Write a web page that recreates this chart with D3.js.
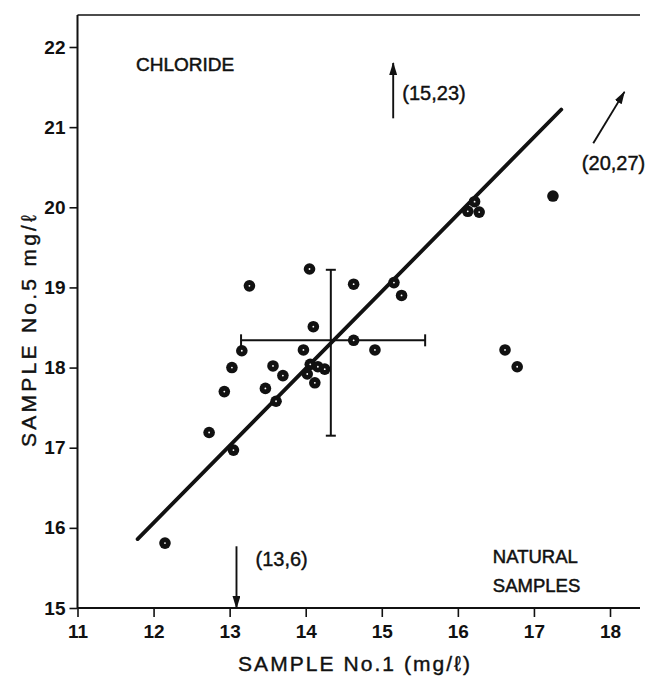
<!DOCTYPE html>
<html><head><meta charset="utf-8">
<script src="https://cdn.jsdelivr.net/npm/d3@7"></script>
<style>
html,body{margin:0;padding:0;background:#fff;}
svg{display:block;}
text{font-family:"Liberation Sans",Arial,Helvetica,sans-serif;fill:#111;}
</style></head>
<body>
<svg id="chart" width="650" height="676"></svg>
<script>
// ---- data ----
const xTicks = [11,12,13,14,15,16,17,18];
const yTicks = [15,16,17,18,19,20,21,22];
const sample1 = [12.15,13.05,12.73,12.93,13.03,13.16,13.26,13.47,13.57,13.61,13.70,13.97,14.10,14.06,14.16,14.25,14.02,14.12,14.05,14.63,15.16,15.26,14.63,14.91,16.13,16.22,16.28,16.62,16.78];
const sample5 = [15.81,16.97,17.19,17.70,18.00,18.21,19.02,17.74,18.02,17.58,17.90,18.22,18.51,18.04,18.01,17.98,17.92,17.81,19.23,19.04,19.06,18.90,18.34,18.22,19.95,20.07,19.94,18.22,18.01];
const solidPoint = [17.25, 20.14];
const fitLine = [[11.79,15.86],[17.36,21.22]];
const meanPoint = [14.33, 18.34];
const xErrRange = [13.15, 15.57];
const yErrRange = [17.15, 19.22];
// off-scale arrows: [x1,y1,x2,y2] in data units
const arrows = [[15.15,21.11,15.15,21.80],[13.09,15.77,13.09,15.0],[17.78,20.80,18.19,21.44]];
const arrowLabels = ["(15,23)","(13,6)","(20,27)"];
const labelPos = [[15.27,21.34],[13.34,15.53],[17.63,20.47]];
const titleText = "CHLORIDE";
const noteText = ["NATURAL","SAMPLES"];
const notePos = [[16.46,15.56],[16.46,15.20]];
const titlePos = [11.77,21.7];
const xTitle = "SAMPLE No.1  (mg/ℓ)";
const yTitle = "SAMPLE No.5  mg/ℓ";

// ---- scales ----
const svg = d3.select("#chart");
const x = d3.scaleLinear().domain([11,18]).range([77.5,610]);
const y = d3.scaleLinear().domain([15,22]).range([608,47]);
const left = x(11), bottom = y(15), topY = 15, rightX = 640;

// axes
const gx = svg.append("g").attr("transform",`translate(0,${bottom})`)
  .call(d3.axisBottom(x).tickValues(xTicks).tickSize(9).tickSizeOuter(0).tickPadding(6).tickFormat(d3.format("d")));
gx.select(".domain").remove();
gx.selectAll("line").attr("stroke","#111").attr("stroke-width",1.6);
gx.selectAll("text").attr("font-size",19).attr("fill","#111").style("font-weight","bold").attr("dy","0.78em");

const gy = svg.append("g").attr("transform",`translate(${left},0)`)
  .call(d3.axisLeft(y).tickValues(yTicks).tickSize(8).tickSizeOuter(0).tickPadding(4).tickFormat(d3.format("d")));
gy.select(".domain").remove();
gy.selectAll("line").attr("stroke","#111").attr("stroke-width",1.6);
gy.selectAll("text").attr("font-size",19).attr("fill","#111").style("font-weight","bold");

// frame lines
svg.append("line").attr("x1",left).attr("x2",rightX).attr("y1",bottom).attr("y2",bottom).attr("stroke","#111").attr("stroke-width",2);
svg.append("line").attr("x1",left).attr("x2",left).attr("y1",topY).attr("y2",bottom).attr("stroke","#111").attr("stroke-width",2);
svg.append("line").attr("x1",left).attr("x2",rightX).attr("y1",topY).attr("y2",topY).attr("stroke","#111").attr("stroke-width",1.5);

// axis titles
svg.append("text").attr("x",354).attr("y",671).attr("text-anchor","middle").attr("font-size",21)
  .attr("stroke","#111").attr("stroke-width",0.4)
  .attr("textLength",232).attr("lengthAdjust","spacing").text(xTitle);
svg.append("text").attr("transform","translate(36,331) rotate(-90)").attr("text-anchor","middle").attr("font-size",21)
  .attr("stroke","#111").attr("stroke-width",0.4)
  .attr("textLength",232).attr("lengthAdjust","spacing").text(yTitle);

// error bars
const eb = svg.append("g").attr("stroke","#111").attr("stroke-width",2);
eb.append("line").attr("x1",x(xErrRange[0])).attr("x2",x(xErrRange[1])).attr("y1",y(meanPoint[1])).attr("y2",y(meanPoint[1]));
eb.append("line").attr("y1",y(yErrRange[0])).attr("y2",y(yErrRange[1])).attr("x1",x(meanPoint[0])).attr("x2",x(meanPoint[0]));
[xErrRange[0],xErrRange[1]].forEach(v=>eb.append("line").attr("x1",x(v)).attr("x2",x(v)).attr("y1",y(meanPoint[1])-6).attr("y2",y(meanPoint[1])+6));
[yErrRange[0],yErrRange[1]].forEach(v=>eb.append("line").attr("y1",y(v)).attr("y2",y(v)).attr("x1",x(meanPoint[0])-5).attr("x2",x(meanPoint[0])+5));

// regression line
svg.append("line").attr("x1",x(fitLine[0][0])).attr("y1",y(fitLine[0][1])).attr("x2",x(fitLine[1][0])).attr("y2",y(fitLine[1][1]))
  .attr("stroke","#111").attr("stroke-width",3.8).attr("stroke-linecap","round");

// points
const pts = sample1.map((v,i)=>[v,sample5[i]]);
const pg = svg.append("g");
pg.selectAll("circle.p").data(pts).join("circle").attr("class","p")
  .attr("cx",d=>x(d[0])).attr("cy",d=>y(d[1])).attr("r",5.8).attr("fill","#111");
pg.selectAll("circle.h").data(pts).join("circle").attr("class","h")
  .attr("cx",d=>x(d[0])).attr("cy",d=>y(d[1])).attr("r",0.9).attr("fill","#fff");
svg.append("circle").attr("cx",x(solidPoint[0])).attr("cy",y(solidPoint[1])).attr("r",5.8).attr("fill","#111");

// arrows
const defs = svg.append("defs");
defs.append("marker").attr("id","ah").attr("viewBox","0 0 13 8").attr("refX",12).attr("refY",4)
  .attr("markerWidth",13).attr("markerHeight",8).attr("markerUnits","userSpaceOnUse").attr("orient","auto")
  .append("path").attr("d","M0,0 L13,4 L0,8 Z").attr("fill","#111");
svg.selectAll("line.arr").data(arrows).join("line").attr("class","arr")
  .attr("x1",d=>x(d[0])).attr("y1",d=>y(d[1])).attr("x2",d=>x(d[2])).attr("y2",d=>y(d[3]))
  .attr("stroke","#111").attr("stroke-width",1.9).attr("marker-end","url(#ah)");
svg.selectAll("text.al").data(arrowLabels).join("text").attr("class","al")
  .attr("x",(d,i)=>x(labelPos[i][0])).attr("y",(d,i)=>y(labelPos[i][1])).attr("font-size",20)
  .attr("stroke","#111").attr("stroke-width",0.4).text(d=>d);

// notes
svg.append("text").attr("x",x(titlePos[0])).attr("y",y(titlePos[1])).attr("font-size",19)
  .attr("stroke","#111").attr("stroke-width",0.5).text(titleText);
svg.selectAll("text.nt").data(noteText).join("text").attr("class","nt")
  .attr("x",(d,i)=>x(notePos[i][0])).attr("y",(d,i)=>y(notePos[i][1])).attr("font-size",18.5)
  .attr("stroke","#111").attr("stroke-width",0.5).text(d=>d);
</script>
</body></html>
